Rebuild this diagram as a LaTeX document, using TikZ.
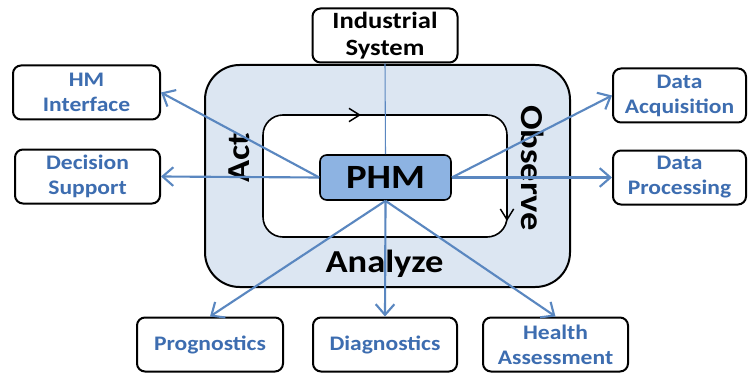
\documentclass[tikz,border=0pt]{standalone}
\usepackage{fontspec}
\setmainfont{Carlito}[FakeStretch=1.14]
\usetikzlibrary{arrows.meta}
\definecolor{txtblue}{HTML}{3D6DB0}
\definecolor{lnblue}{HTML}{5A87C0}
\definecolor{outerfill}{HTML}{DCE6F2}
\definecolor{phmfill}{HTML}{8DB3E2}
\begin{document}
\begin{tikzpicture}[x=0.75pt,y=-0.75pt,
  box/.style={draw=black, line width=1.5pt, rounded corners=6pt, fill=white, align=center,
    font=\fontsize{15.5}{18.75}\selectfont\bfseries, text=txtblue, inner sep=0pt,
    minimum height={54*0.75pt}},
  conn/.style={draw=lnblue, line width=1.6pt, -{Straight Barb[length=8pt,width=14pt]}},
  big/.style={font=\fontsize{24}{28}\selectfont\bfseries, inner sep=0pt},
  cyc/.style={draw=black, line width=1.1pt, -{Straight Barb[length=8pt,width=10pt]}},
]
\useasboundingbox (0,0) rectangle (755,374);
% frames
\draw[line width=1.5pt, fill=outerfill, rounded corners=26pt] (205,65) rectangle (570,287);
\draw[line width=1.2pt, fill=white, rounded corners=15pt] (263,115) rectangle (507,237);
\coordinate (c1) at (297,115);
\coordinate (c2) at (361,115);
\coordinate (c3) at (507,172);
\coordinate (c4) at (507,221);
\draw[cyc] (c1) -- (c2);
\draw[cyc] (c3) -- (c4);
\node[big, rotate=90] (act) at (239,157.5) {Act};
\node[big, rotate=-90] (obs) at (533,168) {Observe};
\node[big] (ana) at (384.5,264) {Analyze};
% boxes
\node[box, text=black, font=\fontsize{17.5}{20}\selectfont\bfseries, minimum width={145*0.75pt}] (ind) at (385,35.5) {Industrial\\System};
\node[box, minimum width={147*0.75pt}] (hm) at (86.5,92.5) {HM\\Interface};
\node[box, minimum width={145*0.75pt}] (ds) at (87.5,176.5) {Decision\\Support};
\node[box, minimum width={133*0.75pt}] (dacq) at (679.5,95.5) {Data\\Acquisition};
\node[box, minimum width={133*0.75pt}] (dproc) at (679.5,177.5) {Data\\Processing};
\node[box, minimum width={146*0.75pt}] (prog) at (210,344.5) {Prognostics};
\node[box, minimum width={144*0.75pt}] (diag) at (385,344.5) {Diagnostics};
\node[box, minimum width={145*0.75pt}] (health) at (555.5,344.5) {Health\\Assessment};
% PHM
\node[draw=black, line width=1.2pt, fill=phmfill, rounded corners=5pt,
  minimum width={131*0.75pt}, minimum height={45*0.75pt}, inner sep=0pt,
  font=\fontsize{25.5}{30}\selectfont\bfseries] (phm) at (385.5,177.5) {PHM};
% connectors
\draw[lnblue, line width=0.8pt] (ind.south) -- (phm.north);
\draw[conn] (phm.west) -- (hm.east);
\draw[conn] (phm.west) -- (ds.east);
\draw[conn] (phm.east) -- (dacq.west);
\draw[conn] (phm.east) -- (dproc.west);
\draw[conn] (phm.south) -- (prog.north);
\draw[conn] (phm.south) -- (diag.north);
\draw[conn] (phm.south) -- (health.north);
\end{tikzpicture}
\end{document}
